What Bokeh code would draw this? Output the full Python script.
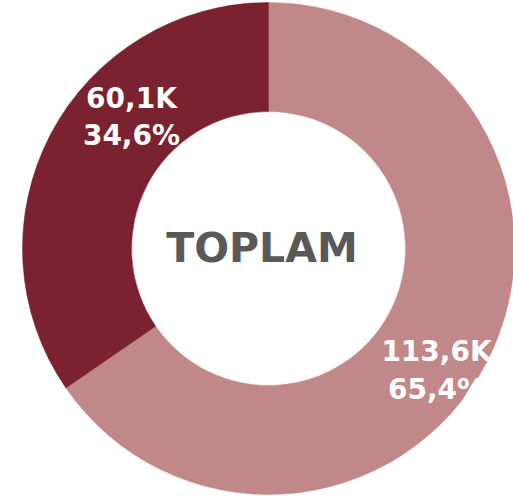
import numpy as np
from bokeh.plotting import figure
from bokeh.models import Range1d, ColumnDataSource
from bokeh.core.properties import value
from bokeh.embed import file_html
from bokeh.resources import INLINE

# ---- data ----
categories = ["Seri 1", "Seri 2"]
values_k = [113.6, 60.1]
value_labels = ["113,6K", "60,1K"]
colors = ["#C08888", "#7B2230"]
center_label = "TOPLAM"

# ---- layout ----
W, H = 513, 500
cx, cy = 268, H - 248
R_OUT, R_IN = 246, 137

vals = np.array(values_k, dtype=float)
fracs = vals / vals.sum()
cum = np.concatenate([[0.0], np.cumsum(fracs)[:-1]])
start = np.pi / 2 - 2 * np.pi * cum
end = start - 2 * np.pi * fracs
mid = (start + end) / 2
r_mid = (R_OUT + R_IN) / 2

pct = [f"{f * 100:.1f}".replace(".", ",") + "%" for f in fracs]
texts = [f"{v}\n{p}" for v, p in zip(value_labels, pct)]
label_dx = [-1.5, 32.5]
label_dy = [33, -42.4]

src = ColumnDataSource(dict(
    cat=categories, start=start, end=end, color=colors,
    lx=cx + r_mid * np.cos(mid), ly=cy + r_mid * np.sin(mid),
    text=texts, dx=label_dx, dy=label_dy,
))

p = figure(width=W, height=H, x_range=Range1d(0, W), y_range=Range1d(0, H),
           output_backend="svg", toolbar_location=None, min_border=0,
           x_axis_location=None, y_axis_location=None)
p.grid.visible = False
p.outline_line_color = None
p.background_fill_color = "white"
p.border_fill_color = "white"

p.annular_wedge(x=cx, y=cy, inner_radius=R_IN, outer_radius=R_OUT,
                start_angle="start", end_angle="end", direction="clock",
                fill_color="color", line_color="color", line_width=0.5,
                source=src)

p.text(x="lx", y="ly", text="text", x_offset="dx", y_offset="dy", source=src,
       text_font=value("DejaVu Sans"), text_font_style="bold",
       text_font_size="28px", text_color="white", text_align="center",
       text_baseline="middle", text_line_height=1.13)

p.text(x=[cx], y=[cy], text=[center_label], x_offset=[-6.5], y_offset=[-1],
       text_font=value("DejaVu Sans"), text_font_style="bold",
       text_font_size="41px", text_color="#595959", text_align="center",
       text_baseline="middle")

open("out.html", "w").write(file_html(p, INLINE))
